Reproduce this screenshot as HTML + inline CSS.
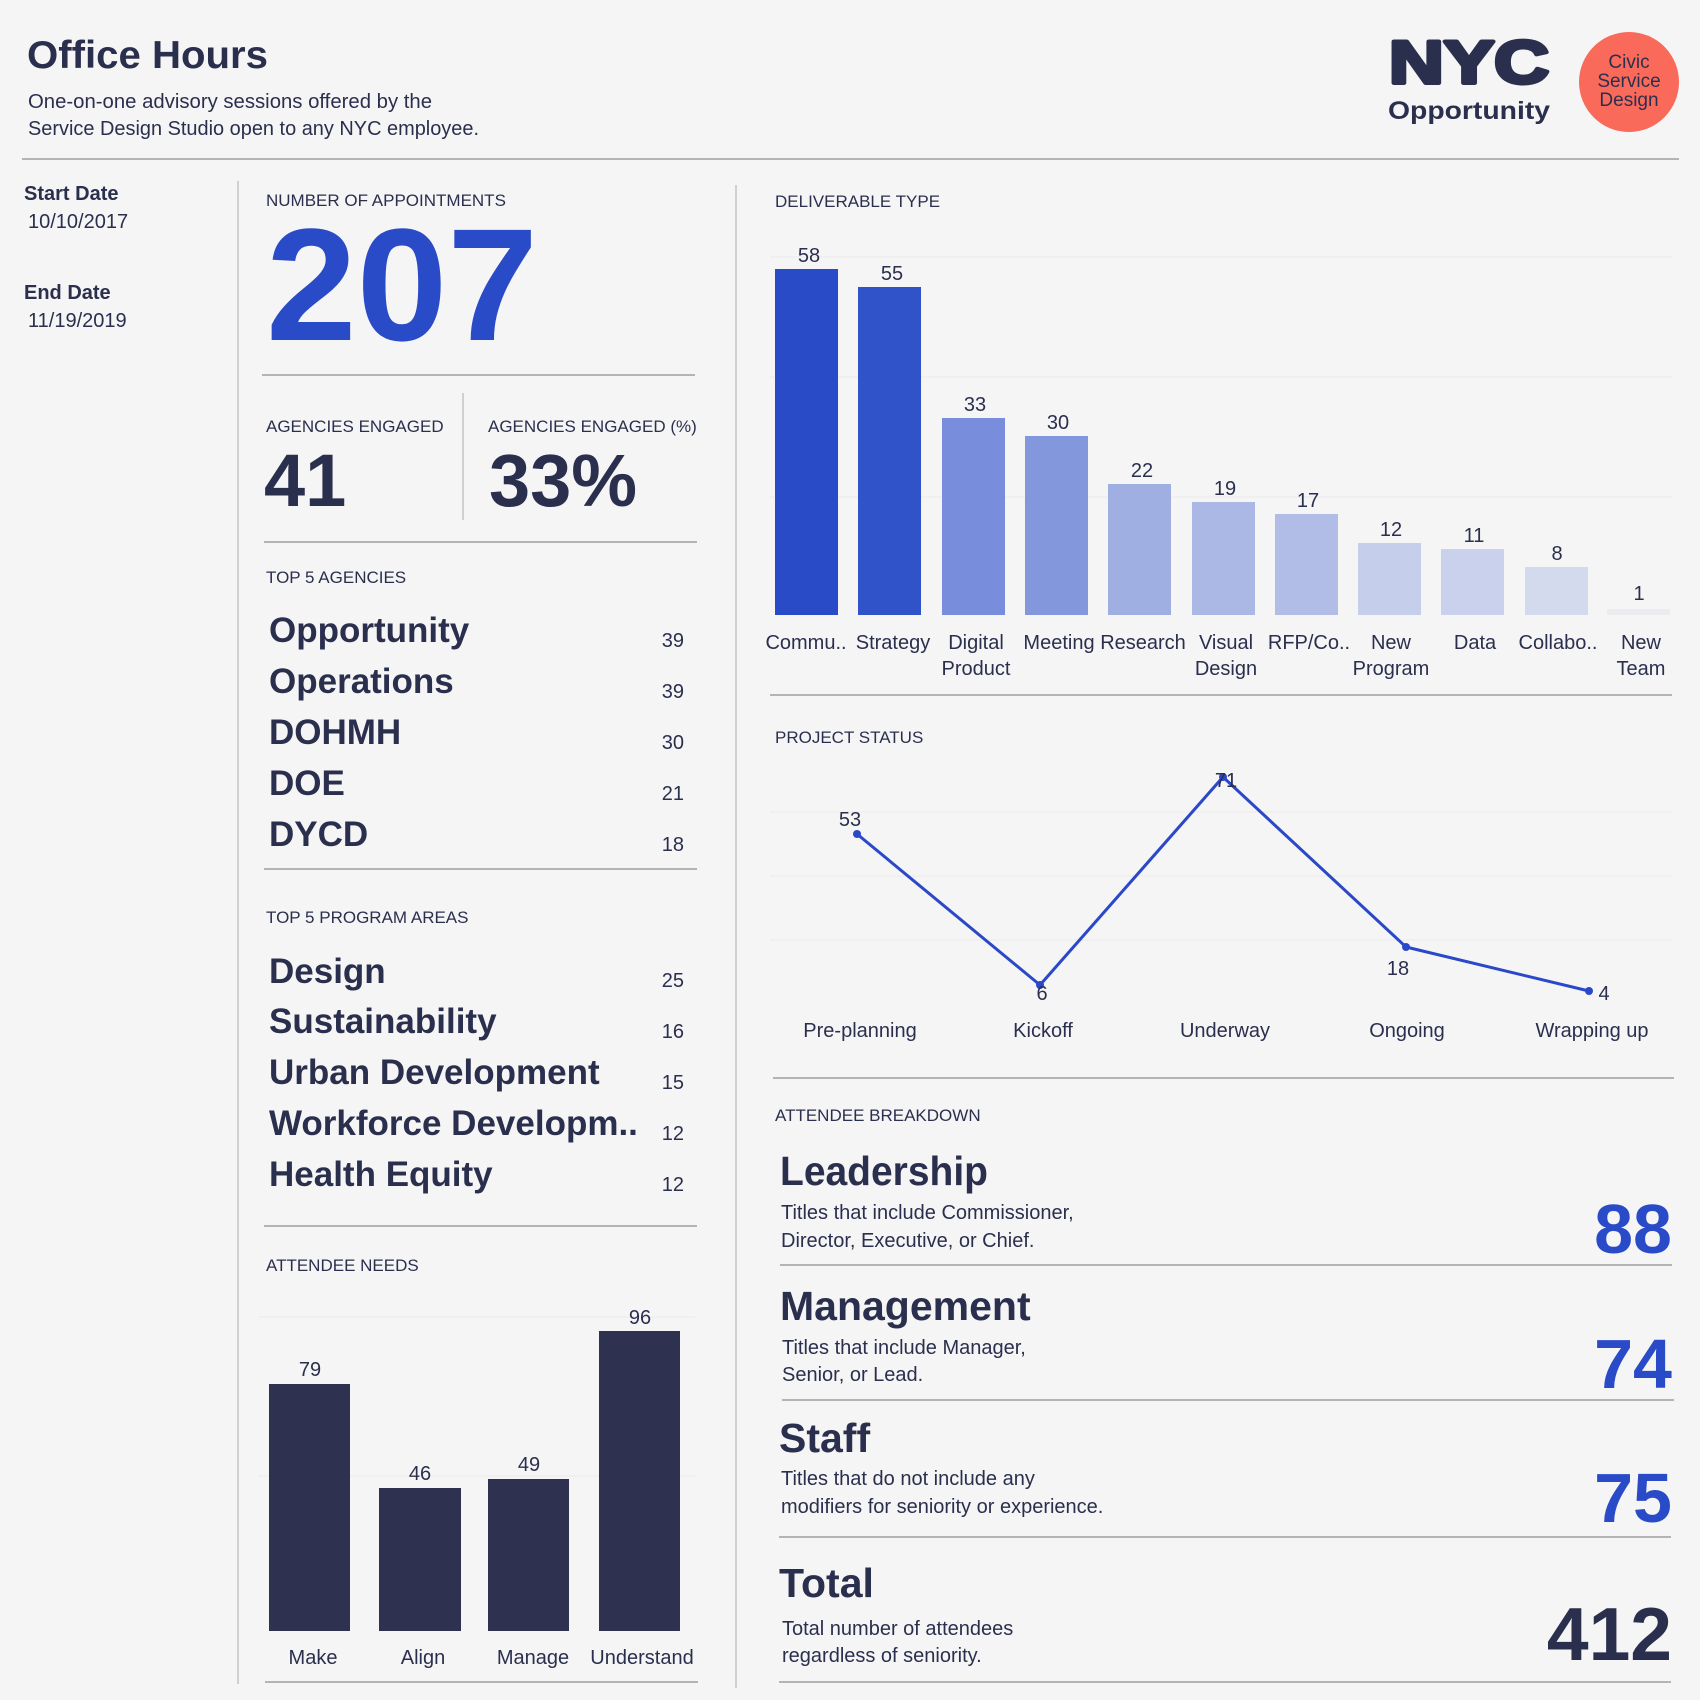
<!DOCTYPE html>
<html><head><meta charset="utf-8"><style>
html,body{margin:0;padding:0;background:#f5f5f5;}
svg{display:block;}
text{font-family:"Liberation Sans",Arial,sans-serif;fill:#2b2f4e;}
.b{font-weight:bold;}
.lab{font-size:17px;}
.t20{font-size:20px;}
</style></head><body>
<svg width="1700" height="1700" viewBox="0 0 1700 1700" xmlns="http://www.w3.org/2000/svg">
<rect width="1700" height="1700" fill="#f5f5f5"/>

<!-- Header -->
<text x="27" y="68" class="b" font-size="39" textLength="241" lengthAdjust="spacingAndGlyphs">Office Hours</text>
<text x="28" y="108" class="t20" textLength="404" lengthAdjust="spacingAndGlyphs">One-on-one advisory sessions offered by the</text>
<text x="28" y="135" class="t20" textLength="451" lengthAdjust="spacingAndGlyphs">Service Design Studio open to any NYC employee.</text>

<!-- Logo -->
<text x="1389" y="83" class="b" font-size="60" textLength="160" lengthAdjust="spacingAndGlyphs" stroke="#2b2f4e" stroke-width="4" stroke-linejoin="round">NYC</text>
<text x="1388" y="119" class="b" font-size="25" textLength="162" lengthAdjust="spacingAndGlyphs">Opportunity</text>
<circle cx="1629" cy="82" r="50" fill="#f96a5a"/>
<text x="1629" y="68" font-size="19" text-anchor="middle">Civic</text>
<text x="1629" y="87" font-size="19" text-anchor="middle">Service</text>
<text x="1629" y="106" font-size="19" text-anchor="middle">Design</text>

<line x1="22" y1="159" x2="1679" y2="159" stroke="#b4b4b4" stroke-width="2"/>

<!-- Left column -->
<text x="24" y="200" class="b t20">Start Date</text>
<text x="28" y="228" class="t20">10/10/2017</text>
<text x="24" y="299" class="b t20">End Date</text>
<text x="28" y="327" class="t20">11/19/2019</text>

<line x1="238" y1="181" x2="238" y2="1684" stroke="#c4c4c4" stroke-width="1.5"/>
<line x1="736" y1="185" x2="736" y2="1688" stroke="#c4c4c4" stroke-width="1.5"/>

<!-- Middle column -->
<text x="266" y="206" class="lab">NUMBER OF APPOINTMENTS</text>
<text x="266" y="340" class="b" font-size="160" textLength="272" lengthAdjust="spacingAndGlyphs" style="fill:#2a4bc8">207</text>
<line x1="262" y1="375" x2="695" y2="375" stroke="#b4b4b4" stroke-width="2"/>

<text x="266" y="432" class="lab">AGENCIES ENGAGED</text>
<text x="488" y="432" class="lab">AGENCIES ENGAGED (%)</text>
<line x1="463" y1="393" x2="463" y2="520" stroke="#c4c4c4" stroke-width="1.5"/>
<text x="264" y="506" class="b" font-size="74">41</text>
<text x="489" y="506" class="b" font-size="74">33%</text>
<line x1="264" y1="542" x2="697" y2="542" stroke="#b4b4b4" stroke-width="2"/>

<text x="266" y="583" class="lab">TOP 5 AGENCIES</text>
<g class="b" font-size="35">
<text x="269" y="642" class="b">Opportunity</text>
<text x="269" y="693" class="b">Operations</text>
<text x="269" y="744" class="b">DOHMH</text>
<text x="269" y="795" class="b">DOE</text>
<text x="269" y="846" class="b">DYCD</text>
</g>
<g font-size="20" text-anchor="end">
<text x="684" y="647">39</text>
<text x="684" y="698">39</text>
<text x="684" y="749">30</text>
<text x="684" y="800">21</text>
<text x="684" y="851">18</text>
</g>
<line x1="264" y1="869" x2="697" y2="869" stroke="#b4b4b4" stroke-width="2"/>

<text x="266" y="923" class="lab">TOP 5 PROGRAM AREAS</text>
<g font-size="35">
<text x="269" y="983" class="b">Design</text>
<text x="269" y="1033" class="b">Sustainability</text>
<text x="269" y="1084" class="b">Urban Development</text>
<text x="269" y="1135" class="b">Workforce Developm..</text>
<text x="269" y="1186" class="b">Health Equity</text>
</g>
<g font-size="20" text-anchor="end">
<text x="684" y="987">25</text>
<text x="684" y="1038">16</text>
<text x="684" y="1089">15</text>
<text x="684" y="1140">12</text>
<text x="684" y="1191">12</text>
</g>
<line x1="264" y1="1226" x2="697" y2="1226" stroke="#b4b4b4" stroke-width="2"/>

<text x="266" y="1271" class="lab">ATTENDEE NEEDS</text>
<line x1="258" y1="1317" x2="695" y2="1317" stroke="#ececec" stroke-width="1"/>
<line x1="258" y1="1476" x2="695" y2="1476" stroke="#ececec" stroke-width="1"/>
<g fill="#2e3250">
<rect x="269" y="1384" width="81" height="247"/>
<rect x="379" y="1488" width="82" height="143"/>
<rect x="488" y="1479" width="81" height="152"/>
<rect x="599" y="1331" width="81" height="300"/>
</g>
<g font-size="20" text-anchor="middle">
<text x="310" y="1376">79</text>
<text x="420" y="1480">46</text>
<text x="529" y="1471">49</text>
<text x="640" y="1324">96</text>
<text x="313" y="1664">Make</text>
<text x="423" y="1664">Align</text>
<text x="533" y="1664">Manage</text>
<text x="642" y="1664">Understand</text>
</g>
<line x1="265" y1="1682" x2="698" y2="1682" stroke="#b4b4b4" stroke-width="2"/>

<!-- Right column: Deliverable type -->
<text x="775" y="207" class="lab">DELIVERABLE TYPE</text>
<g stroke="#ececec" stroke-width="1">
<line x1="770" y1="257" x2="1672" y2="257"/>
<line x1="770" y1="377" x2="1672" y2="377"/>
<line x1="770" y1="497" x2="1672" y2="497"/>
</g>
<g>
<rect x="775" y="269" width="63" height="346" fill="#2a4bc8"/>
<rect x="858" y="287" width="63" height="328" fill="#3053c9"/>
<rect x="942" y="418" width="63" height="197" fill="#788ddb"/>
<rect x="1025" y="436" width="63" height="179" fill="#8397dd"/>
<rect x="1108" y="484" width="63" height="131" fill="#9fafe2"/>
<rect x="1192" y="502" width="63" height="113" fill="#abb8e5"/>
<rect x="1275" y="514" width="63" height="101" fill="#b2bde7"/>
<rect x="1358" y="543" width="63" height="72" fill="#c5ceea"/>
<rect x="1441" y="549" width="63" height="66" fill="#cad1ec"/>
<rect x="1525" y="567" width="63" height="48" fill="#d4daee"/>
<rect x="1607" y="609" width="63" height="6" fill="#ebecf0"/>
</g>
<g font-size="20" text-anchor="middle">
<text x="809" y="262">58</text>
<text x="892" y="280">55</text>
<text x="975" y="411">33</text>
<text x="1058" y="429">30</text>
<text x="1142" y="477">22</text>
<text x="1225" y="495">19</text>
<text x="1308" y="507">17</text>
<text x="1391" y="536">12</text>
<text x="1474" y="542">11</text>
<text x="1557" y="560">8</text>
<text x="1639" y="600">1</text>

<text x="806" y="649">Commu..</text>
<text x="893" y="649">Strategy</text>
<text x="976" y="649">Digital</text>
<text x="976" y="675">Product</text>
<text x="1059" y="649">Meeting</text>
<text x="1143" y="649">Research</text>
<text x="1226" y="649">Visual</text>
<text x="1226" y="675">Design</text>
<text x="1309" y="649">RFP/Co..</text>
<text x="1391" y="649">New</text>
<text x="1391" y="675">Program</text>
<text x="1475" y="649">Data</text>
<text x="1558" y="649">Collabo..</text>
<text x="1641" y="649">New</text>
<text x="1641" y="675">Team</text>
</g>
<line x1="770" y1="695" x2="1672" y2="695" stroke="#b4b4b4" stroke-width="2"/>

<!-- Project status -->
<text x="775" y="743" class="lab">PROJECT STATUS</text>
<g stroke="#ececec" stroke-width="1">
<line x1="770" y1="812" x2="1672" y2="812"/>
<line x1="770" y1="876" x2="1672" y2="876"/>
<line x1="770" y1="940" x2="1672" y2="940"/>
</g>
<polyline points="857,834 1040,985 1223,777 1406,947 1589,991" fill="none" stroke="#2a48c8" stroke-width="3" stroke-linejoin="round"/>
<g fill="#2a48c8">
<circle cx="857" cy="834" r="4"/>
<circle cx="1040" cy="985" r="4"/>
<circle cx="1223" cy="777" r="4"/>
<circle cx="1406" cy="947" r="4"/>
<circle cx="1589" cy="991" r="4"/>
</g>
<g font-size="20" text-anchor="middle">
<text x="850" y="826">53</text>
<text x="1042" y="1000">6</text>
<text x="1226" y="787">71</text>
<text x="1398" y="975">18</text>
<text x="1604" y="1000">4</text>
<text x="860" y="1037">Pre-planning</text>
<text x="1043" y="1037">Kickoff</text>
<text x="1225" y="1037">Underway</text>
<text x="1407" y="1037">Ongoing</text>
<text x="1592" y="1037">Wrapping up</text>
</g>
<line x1="773" y1="1078" x2="1674" y2="1078" stroke="#b4b4b4" stroke-width="2"/>

<!-- Attendee breakdown -->
<text x="775" y="1121" class="lab">ATTENDEE BREAKDOWN</text>

<text x="780" y="1185" class="b" font-size="41" textLength="208" lengthAdjust="spacingAndGlyphs">Leadership</text>
<text x="781" y="1219" class="t20">Titles that include Commissioner,</text>
<text x="781" y="1247" class="t20">Director, Executive, or Chief.</text>
<text x="1672" y="1253" class="b" font-size="70" text-anchor="end" style="fill:#2a4bc8">88</text>
<line x1="780" y1="1265" x2="1672" y2="1265" stroke="#b4b4b4" stroke-width="2"/>

<text x="780" y="1320" class="b" font-size="41">Management</text>
<text x="782" y="1354" class="t20">Titles that include Manager,</text>
<text x="782" y="1381" class="t20">Senior, or Lead.</text>
<text x="1672" y="1388" class="b" font-size="70" text-anchor="end" style="fill:#2a4bc8">74</text>
<line x1="782" y1="1400" x2="1674" y2="1400" stroke="#b4b4b4" stroke-width="2"/>

<text x="779" y="1452" class="b" font-size="41">Staff</text>
<text x="781" y="1485" class="t20">Titles that do not include any</text>
<text x="781" y="1513" class="t20">modifiers for seniority or experience.</text>
<text x="1672" y="1522" class="b" font-size="70" text-anchor="end" style="fill:#2a4bc8">75</text>
<line x1="779" y1="1537" x2="1671" y2="1537" stroke="#b4b4b4" stroke-width="2"/>

<text x="779" y="1597" class="b" font-size="41">Total</text>
<text x="782" y="1635" class="t20">Total number of attendees</text>
<text x="782" y="1662" class="t20">regardless of seniority.</text>
<text x="1672" y="1660" class="b" font-size="75" text-anchor="end">412</text>
<line x1="779" y1="1682" x2="1671" y2="1682" stroke="#b4b4b4" stroke-width="2"/>
</svg>
</body></html>
